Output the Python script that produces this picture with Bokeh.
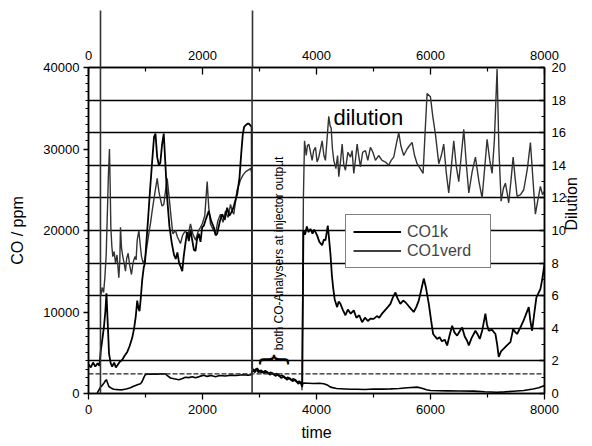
import math
from bokeh.plotting import figure
from bokeh.models import Range1d, LinearAxis, FixedTicker, Span, Legend, LegendItem
from bokeh.core.properties import value
from bokeh.embed import file_html
from bokeh.resources import INLINE

FONT = "Liberation Sans"

# ---------------- axes / ticks ----------------
time_ticks = [0, 2000, 4000, 6000, 8000]
time_minor = [1000, 3000, 5000, 7000]
co_ticks = [0, 10000, 20000, 30000, 40000]
co_minor = list(range(0, 40001, 1000))
dil_ticks = list(range(0, 21, 2))
dil_minor = list(range(1, 20, 2))
grid_levels = list(range(4000, 36001, 4000))
marker_times = [210, 2870]
dashed_level = 2400
T_MIN, T_MAX = 0, 8000
CO_MAX = 40000
DIL_MAX = 20

# ---------------- data ----------------
co1k_t = [0, 40, 80, 120, 160, 190, 215, 240, 270, 295, 315, 335, 360, 390, 415, 450, 480, 510,
          550, 590, 630, 680, 720, 766, 800, 830, 855, 875, 895, 915, 942, 970, 990, 1020, 1046,
          1080, 1117, 1150, 1175, 1205, 1235, 1260, 1290, 1320, 1350, 1380, 1420, 1460, 1500,
          1530, 1560, 1590, 1620, 1645, 1670, 1700, 1730, 1760, 1790, 1820, 1850, 1877, 1906,
          1935, 1965, 1994, 2023, 2060, 2110, 2150, 2198, 2230, 2257, 2300, 2345, 2390, 2433,
          2470, 2520, 2550, 2578, 2610, 2649, 2680, 2707, 2730, 2754, 2790, 2812, 2840, 2862,
          2872, 2900, 2940, 2980, 3030, 3080, 3130, 3180, 3230, 3280, 3330, 3380, 3430, 3480,
          3530, 3580, 3630, 3680, 3720, 3750,
          3770, 3800, 3830, 3860, 3894, 3930, 3960, 4011, 4050, 4099, 4130, 4157, 4180, 4198,
          4220, 4245, 4270, 4292, 4320, 4362, 4390, 4420, 4460, 4508, 4550, 4600, 4654, 4700,
          4750, 4800, 4850, 4900, 4950, 5004, 5060, 5100, 5150, 5200, 5250, 5297, 5340, 5385,
          5420, 5472, 5520, 5560, 5620, 5670, 5706, 5750, 5794, 5840, 5882, 5920, 5970, 6010,
          6046, 6080, 6116, 6160, 6200, 6250, 6292, 6330, 6380, 6420, 6467, 6510, 6555, 6600,
          6640, 6672, 6720, 6788, 6830, 6864, 6910, 6963, 6990, 7022, 7080, 7139, 7170, 7197,
          7240, 7285, 7340, 7402, 7450, 7480, 7519, 7570, 7636, 7680, 7724, 7750, 7782, 7820,
          7858, 7900, 7928, 7960, 8000]
co1k_v = [3600, 3200, 3800, 3300, 3700, 3400, 5200, 6500, 8100, 10000, 12300, 9000, 4900, 3700,
          3300, 3800, 3200, 3500, 3900, 4100, 4600, 5100, 5800, 6800, 8000, 9500, 11400, 10500,
          10100, 11500, 13900, 15500, 16000, 19000, 21500, 25000, 28500, 31500, 31900, 29000,
          28000, 28300, 30500, 31900, 28000, 24000, 20500, 18500, 17000, 16500, 17300, 16000,
          15500, 15000, 16800, 18400, 19800, 18700, 20100, 18800, 17600, 17500, 19000, 19600,
          18600, 20400, 20600, 21400, 22400, 21200, 20400, 19400, 19600, 21000, 22000, 21300,
          22800, 21800, 22400, 23000, 23700, 24500, 26500, 29500, 31800, 32700, 32900, 33100,
          33100, 32900, 32700,
          3100, 2800, 3000, 2600, 2850, 2500, 2700, 2300, 2500, 2150, 2350, 1900, 2100, 1700,
          1900, 1500, 1700, 1200, 1400, 800,
          20000, 19500, 20500, 19800, 20200, 19600, 20100, 19400, 18600, 18200, 18900, 18800,
          19800, 20600, 19000, 17100, 14500, 13000, 11500, 10600, 11300, 11000, 10300, 9600,
          10300, 9800, 10200, 9300, 9600, 8750, 9300, 8900, 9200, 9160, 9500, 9300, 9800,
          10200, 10600, 11000, 11800, 12400, 11700, 11000, 11400, 11200, 10700, 10300, 10000,
          10600, 11400, 12800, 14100, 13000, 11000, 9000, 7300, 7000, 6700, 6900, 6400, 6600,
          5900, 7000, 8300, 7500, 7100, 7600, 8100, 7000, 6500, 5900, 6800, 7700, 7200, 6700,
          7800, 9800, 8500, 7700, 7800, 7300, 6000, 4500, 5200, 5500, 5900, 6300, 7900, 7600,
          7300, 8000, 9000, 9800, 10600, 9000, 7700, 9800, 11800, 12400, 12800, 14000, 15900]

co1verd_t = [150, 180, 210, 240, 270, 300, 315, 335, 357, 400, 445, 520, 590, 660, 737, 780,
             825, 870, 912, 935, 955, 980, 1000, 1100, 1200, 1300, 1350, 1390, 1438, 1500, 1585,
             1640, 1700, 1760, 1820, 1877, 1950, 2023, 2080, 2150, 2230, 2300, 2400, 2500, 2600,
             2700, 2800, 2860,
             2872, 2920, 2960, 3000, 3050, 3100, 3150, 3200, 3250, 3300, 3350, 3400, 3450, 3500,
             3550, 3600, 3650, 3700, 3745,
             3776, 3850, 3950, 4050, 4127, 4200, 4245, 4350, 4500, 4600, 4713, 4850, 5000, 5150,
             5297, 5450, 5600, 5765, 5850, 5930, 6000, 6150, 6300, 6500, 6758, 6950, 7168, 7300,
             7450, 7636, 7800, 7900, 8000]
co1verd_v = [0, 400, 780, 1000, 1270, 1600, 1700, 1300, 860, 650, 530, 480, 450, 550, 700, 850,
             980, 1100, 1200, 1400, 1700, 2100, 2350, 2400, 2380, 2420, 2400, 2150, 1900, 1800,
             1680, 1800, 2000, 1950, 2050, 1920, 2100, 2250, 2100, 2200, 2050, 2200, 2150, 2250,
             2200, 2300, 2250, 2300,
             2900, 2600, 3100, 2700, 2550, 2800, 2450, 2600, 2300, 2450, 2100, 2250, 1850, 2000,
             1650, 1800, 1400, 1500, 1100,
             1270, 1250, 1220, 1250, 1190, 1000, 780, 620, 560, 520, 530, 500, 560, 540, 570,
             620, 700, 780, 650, 450, 370, 330, 320, 300, 290, 220, 160, 200, 280, 370, 550, 700,
             980]

dil1_t = [215, 240, 265, 287, 310, 327, 350, 368, 380, 392, 410, 427, 450, 474, 500, 532, 550,
          561, 580, 602, 625, 649, 670, 696, 720, 754, 780, 813, 835, 854, 883, 905, 930, 960,
          988, 1020, 1058, 1090, 1117, 1160, 1205, 1235, 1263, 1290, 1321, 1350, 1380, 1410,
          1438, 1479, 1526, 1560, 1614, 1650, 1702, 1740, 1789, 1830, 1877, 1920, 1965, 1994,
          2040, 2082, 2110, 2140, 2180, 2228, 2270, 2315, 2360, 2403, 2450, 2491, 2520, 2549,
          2580, 2608, 2640, 2666, 2710, 2754, 2800, 2842, 2862]
dil1_v = [6.0, 6.5, 6.2, 7.1, 8.5, 10.6, 13.5, 15.0, 12.8, 10.2, 9.0, 8.4, 8.7, 8.0, 8.5, 7.1,
          8.2, 10.2, 8.9, 8.4, 8.0, 7.5, 8.3, 8.6, 7.9, 7.3, 8.0, 8.4, 8.2, 9.4, 10.0, 9.2, 8.4,
          8.0, 8.2, 8.9, 9.8, 10.5, 11.2, 12.2, 13.2, 12.4, 11.9, 11.5, 11.6, 12.4, 13.2, 12.2,
          11.2, 9.8, 10.0, 9.6, 9.2, 9.7, 10.0, 9.6, 10.4, 9.8, 9.4, 9.9, 10.2, 10.4, 10.9, 13.0,
          11.4, 10.4, 10.1, 9.8, 10.6, 11.0, 10.5, 11.2, 10.8, 11.6, 11.2, 11.0, 11.8, 12.5, 12.8,
          13.1, 13.4, 13.6, 13.7, 13.8, 13.6]

dil3_t = [3745, 3770, 3790, 3820, 3840, 3865, 3895, 3923, 3950, 3982, 4010, 4040, 4070, 4099,
          4130, 4157, 4185, 4215, 4240, 4257, 4280, 4303, 4340, 4370, 4391, 4420, 4450, 4480,
          4508, 4550, 4596, 4625, 4654, 4685, 4713, 4740, 4771, 4810, 4859, 4900, 4946, 4990,
          5034, 5090, 5150, 5210, 5267, 5310, 5355, 5400, 5443, 5480, 5530, 5589, 5630, 5677,
          5720, 5765, 5820, 5870, 5905, 5940, 5999, 6040, 6087, 6145, 6190, 6232, 6275, 6320,
          6365, 6408, 6450, 6496, 6540, 6584, 6630, 6672, 6730, 6788, 6850, 6905, 6950, 6993,
          7040, 7081, 7120, 7168, 7200, 7239, 7280, 7314, 7345, 7372, 7410, 7450, 7485, 7519,
          7580, 7636, 7700, 7753, 7800, 7840, 7880, 7928, 7965, 8000]
dil3_v = [0.2, 12.0, 15.5, 14.6, 15.2, 15.3, 14.8, 14.3, 14.9, 15.1, 14.2, 14.5, 15.0, 15.5,
          14.6, 14.3, 15.6, 17.0, 16.4, 16.3, 15.0, 14.3, 13.8, 14.6, 13.3, 14.2, 15.3, 14.0,
          13.7, 14.8, 14.5, 14.9, 13.5, 14.4, 15.3, 14.6, 13.9, 14.8, 14.9, 14.3, 15.1, 14.8,
          14.3, 14.6, 14.3, 14.2, 14.0, 14.3, 14.5, 15.3, 16.0, 15.2, 14.6, 15.0, 15.2, 15.4,
          14.6, 14.1, 13.8, 13.5, 16.0, 18.4, 18.2, 17.0, 15.9, 14.1, 14.6, 15.3, 13.6, 12.3,
          13.9, 15.5, 14.0, 13.0, 14.6, 16.2, 14.0, 12.3, 13.6, 14.5, 13.0, 12.0, 13.8, 15.6,
          14.3, 13.5, 15.5, 19.9, 15.0, 11.8, 12.6, 12.9, 12.3, 11.7, 13.0, 14.5, 13.2, 12.1,
          12.2, 12.5, 13.8, 15.4, 13.0, 11.0, 11.8, 12.7, 12.2, 12.4]

series_labels = ["CO1k", "CO1verd"]

# ---------------- figure ----------------
p = figure(width=591, height=445, x_range=Range1d(T_MIN, T_MAX), y_range=Range1d(0, CO_MAX),
           output_backend="svg", toolbar_location=None, title=None,
           min_border_left=88, min_border_right=46, min_border_top=67, min_border_bottom=52)
p.extra_y_ranges = {"dil": Range1d(0, DIL_MAX)}
p.outline_line_color = "black"
p.outline_line_width = 1.5
p.background_fill_color = "white"
p.border_fill_color = "white"

def style_axis(ax):
    ax.axis_line_color = "black"
    ax.axis_line_width = 1.5
    ax.major_tick_line_color = "black"
    ax.minor_tick_line_color = "black"
    ax.major_tick_line_width = 1.3
    ax.minor_tick_line_width = 1.2
    ax.major_label_text_font = FONT
    ax.major_label_text_font_size = "13px"
    ax.major_label_text_color = "black"
    ax.axis_label_text_font = FONT
    ax.axis_label_text_font_size = "16px"
    ax.axis_label_text_font_style = "normal"
    ax.axis_label_text_color = "black"

xa = p.xaxis[0]
xa.ticker = FixedTicker(ticks=time_ticks, minor_ticks=time_minor)
style_axis(xa)
xa.major_tick_out = 6
xa.major_tick_in = 0
xa.minor_tick_out = 4
xa.minor_tick_in = 0
xa.major_label_standoff = 5
xa.axis_label = "time"
xa.axis_label_standoff = 7

ya = p.yaxis[0]
ya.ticker = FixedTicker(ticks=co_ticks, minor_ticks=co_minor)
style_axis(ya)
ya.major_tick_out = 5
ya.major_tick_in = 0
ya.minor_tick_out = 3
ya.minor_tick_in = 0
ya.major_label_standoff = 4
ya.axis_label = "CO / ppm"
ya.axis_label_standoff = 14

ra = LinearAxis(y_range_name="dil", ticker=FixedTicker(ticks=dil_ticks, minor_ticks=dil_minor))
style_axis(ra)
ra.major_tick_out = 0
ra.major_tick_in = 5
ra.minor_tick_out = 0
ra.minor_tick_in = 3
ra.major_label_standoff = 7
ra.axis_label = "Dilution"
ra.axis_label_standoff = 3
ra.axis_label_orientation = math.pi / 2
p.add_layout(ra, "right")

# top axis: the time ticks point into the frame; the two marker lines continue above it
MARKER_STUB = 57
ta = LinearAxis(ticker=FixedTicker(ticks=time_ticks, minor_ticks=marker_times))
style_axis(ta)
ta.major_tick_out = 0
ta.major_tick_in = 7
ta.minor_tick_in = 0
ta.minor_tick_out = MARKER_STUB
ta.minor_tick_line_color = "#333333"
ta.minor_tick_line_width = 1.6
ta.major_label_standoff = 8 - MARKER_STUB
p.add_layout(ta, "above")

p.xgrid.visible = False
p.ygrid.ticker = FixedTicker(ticks=grid_levels)
p.ygrid.grid_line_color = "black"
p.ygrid.grid_line_width = 1.3

p.add_layout(Span(location=dashed_level, dimension="width", line_color="#222222",
                  line_width=1.2, line_dash="5 2"))
for t in marker_times:
    p.add_layout(Span(location=t, dimension="height", line_color="#333333", line_width=1.6))

# top-axis minor ticks (pointing into the frame)
p.ray(x=time_minor, y=[CO_MAX] * len(time_minor), length=4, length_units="screen",
      angle=-math.pi / 2, line_color="black", line_width=1.2)

# data
r_dil1 = p.line(dil1_t, dil1_v, y_range_name="dil", line_color="#333333", line_width=1.4)
r_dil3 = p.line(dil3_t, dil3_v, y_range_name="dil", line_color="#333333", line_width=1.4)
r_k = p.line(co1k_t, co1k_v, line_color="black", line_width=1.8)
r_v = p.line(co1verd_t, co1verd_v, line_color="black", line_width=1.6)

# annotations
p.text(x=[4297], y=[33870], text=["dilution"], text_font=value(FONT), text_font_size="22px",
       text_align="left", text_baseline="alphabetic", text_color="black")
p.text(x=[3350], y=[17180], text=["both CO-Analysers at injector output"], angle=math.pi / 2,
       text_font=value(FONT), text_font_size="12px", text_align="center",
       text_baseline="middle", text_color="black")
p.text(x=[3306], y=[4170], text=["{"], angle=-math.pi / 2, text_font=value(FONT),
       text_font_size="32px", text_align="center", text_baseline="middle", text_color="black")

legend = Legend(items=[LegendItem(label=series_labels[0], renderers=[r_k]),
                       LegendItem(label=series_labels[1], renderers=[r_v])],
                location=(257, 125), padding=7, spacing=0, margin=0,
                label_text_font=FONT, label_text_font_size="16px", label_height=19,
                glyph_height=19, glyph_width=48, label_standoff=6, label_width=76,
                border_line_color="black", border_line_width=1.3,
                background_fill_color="white", background_fill_alpha=1.0)
p.add_layout(legend)

open("out.html", "w").write(file_html(p, INLINE))
